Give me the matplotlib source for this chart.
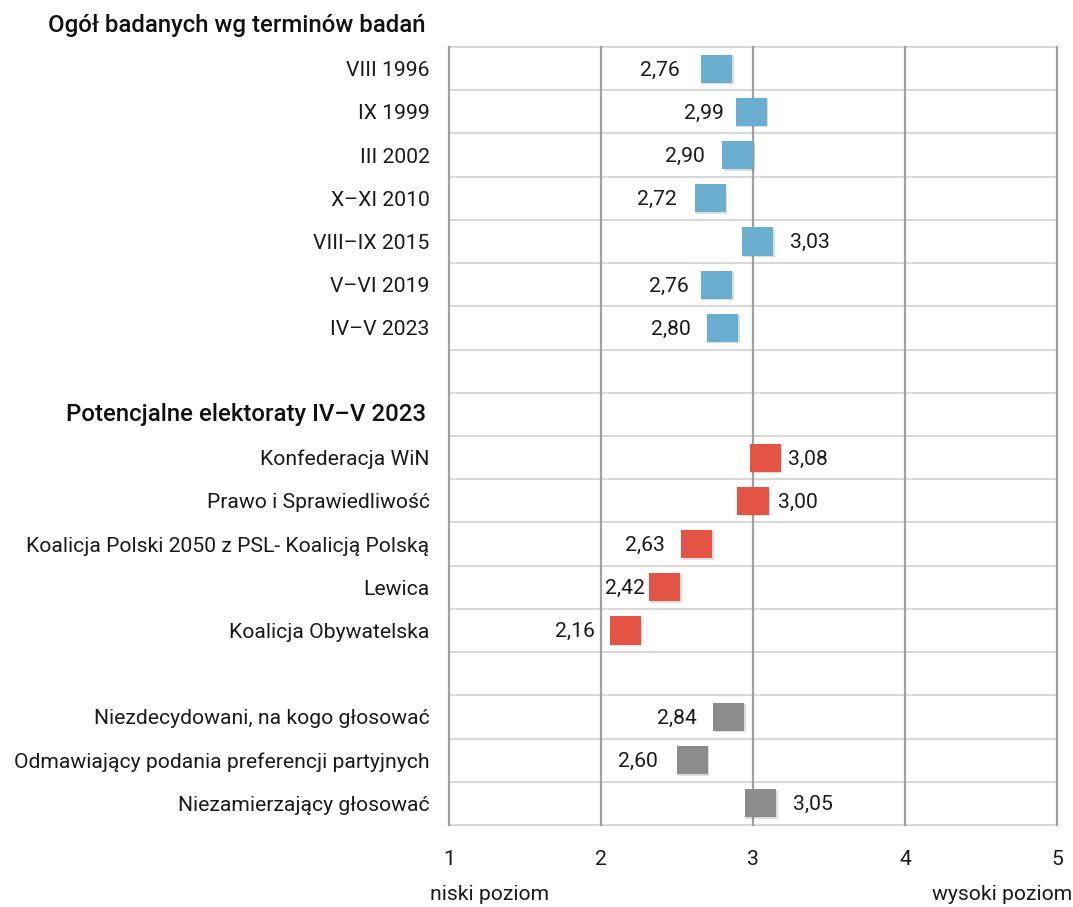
import numpy as np
import matplotlib
matplotlib.use("Agg")
import matplotlib.pyplot as plt
import matplotlib.patheffects as pe

plt.rcParams['font.family'] = ['Roboto', 'DejaVu Sans']

#=============================================================================#
## data
terms = ["VIII 1996", "IX 1999", "III 2002", "X–XI 2010", "VIII–IX 2015",
         "V–VI 2019", "IV–V 2023"]
terms_values = [2.76, 2.99, 2.90, 2.72, 3.03, 2.76, 2.80]

parties = ["Konfederacja WiN", "Prawo i Sprawiedliwość",
           "Koalicja Polski 2050 z PSL- Koalicją Polską", "Lewica",
           "Koalicja Obywatelska"]
parties_values = [3.08, 3.00, 2.63, 2.42, 2.16]

others = ["Niezdecydowani, na kogo głosować",
          "Odmawiający podania preferencji partyjnych",
          "Niezamierzający głosować"]
others_values = [2.84, 2.60, 3.05]

header_terms = "Ogół badanych wg terminów badań"
header_parties = "Potencjalne elektoraty IV–V 2023"

# label offsets from marker centre (px); negative = label on the left
terms_dx = [-37, -28, -33, -34, 32, -28, -32]
parties_dx = [23, 25, -32, -20, -30]
others_dx = [-32, -34, 32]

c_blue = '#6aaed0'
c_red = '#e45444'
c_grey = '#8c8c8c'
fs = 15.2

#=============================================================================#
## row layout: terms, blank, header, parties, blank, others
groups = [(terms, terms_values, terms_dx, c_blue, 0),
          (parties, parties_values, parties_dx, c_red, 9),
          (others, others_values, others_dx, c_grey, 15)]
n_rows = 18

fig = plt.figure(figsize=(10.73, 9.07), dpi=100)
ax = fig.add_axes([449/1073, 1 - 825/907, 608/1073, 778/907])

ax.set_xlim(1, 5)
ax.set_ylim(n_rows - 0.5, -0.5)

for y in np.arange(-0.5, n_rows, 1.0):
    ax.axhline(y, color='#d9d9d9', linewidth=1.5, zorder=1, clip_on=False)
for x in range(1, 6):
    ax.axvline(x, color='#a0a0a0', linewidth=1.6, zorder=2, clip_on=False)

marker = [(-1, -0.9), (1, -0.9), (1, 0.9), (-1, 0.9), (-1, -0.9)]
shadow = [pe.SimplePatchShadow(offset=(1.0, -1.0), alpha=0.2, shadow_rgbFace='#555555'),
          pe.Normal()]

tick_pos = []
tick_lab = []
for names, vals, dxs, col, start in groups:
    rows = np.arange(start, start + len(names))
    ax.plot(vals, rows, linestyle='none', marker=marker, markersize=22.5,
            color=col, markeredgewidth=0, zorder=5, path_effects=shadow)
    for v, r, dx in zip(vals, rows, dxs):
        ax.annotate(f"{v:.2f}".replace('.', ','), (v, r),
                    xytext=(dx * 0.72, -1), textcoords='offset points',
                    ha='right' if dx < 0 else 'left', va='center',
                    fontsize=fs, color='#1a1a1a', zorder=6)
    tick_pos += list(rows)
    tick_lab += names

ax.set_yticks(tick_pos)
ax.set_yticklabels(tick_lab, fontsize=fs, color='#1a1a1a')
ax.set_xticks([1, 2, 3, 4, 5])
ax.set_xticklabels(['1', '2', '3', '4', '5'], fontsize=fs, color='#1a1a1a')
ax.tick_params(axis='both', length=0)
ax.tick_params(axis='y', pad=14)
ax.tick_params(axis='x', pad=18)
for s in ax.spines.values():
    s.set_visible(False)

# section headers
ax.text(-0.038, -0.5 - 0.5, header_terms, transform=ax.get_yaxis_transform(),
        ha='right', va='center', fontsize=17.3, fontweight='medium', color='#111111')
ax.text(-0.038, 8, header_parties, transform=ax.get_yaxis_transform(),
        ha='right', va='center', fontsize=17.3, fontweight='medium', color='#111111')

# scale descriptions
fig.text(430/1073, 1 - 895/907, "niski poziom", ha='left', va='center',
         fontsize=fs, color='#1a1a1a')
fig.text(1072/1073, 1 - 895/907, "wysoki poziom", ha='right', va='center',
         fontsize=fs, color='#1a1a1a')

fig.savefig("out.png", dpi=100)
